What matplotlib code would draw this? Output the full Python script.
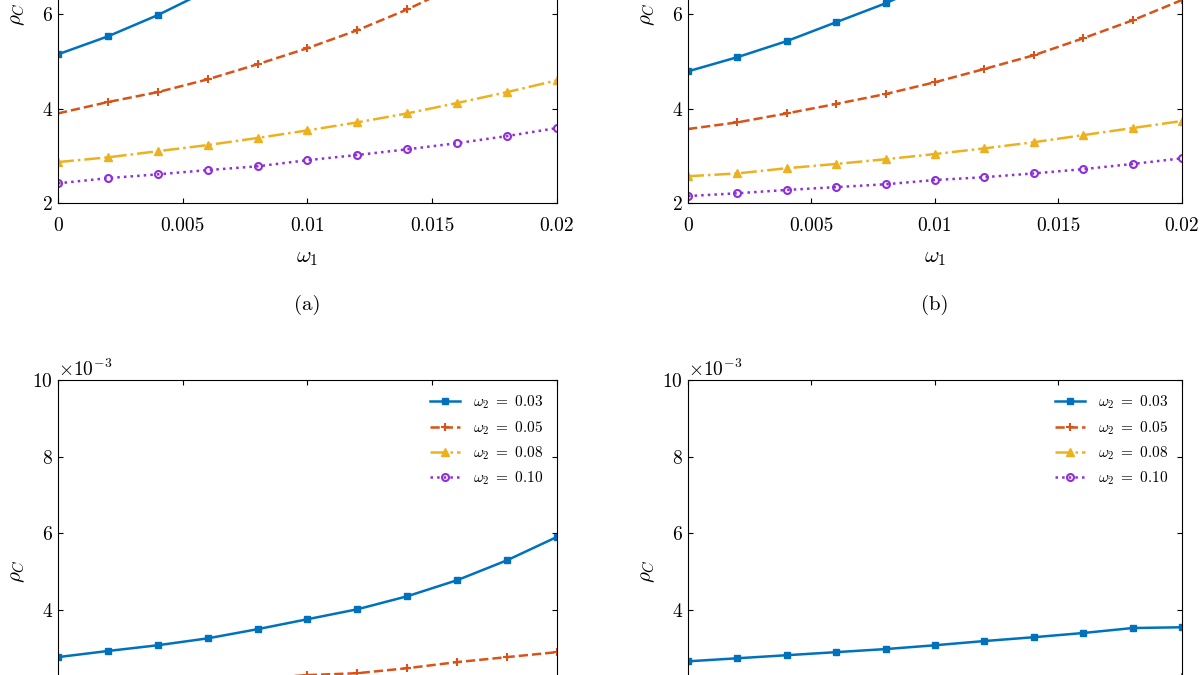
import matplotlib
matplotlib.use('Agg')
import matplotlib.pyplot as plt
import numpy as np

plt.rcParams['font.family'] = 'serif'
plt.rcParams['font.serif'] = ['cmr10', 'DejaVu Serif']
plt.rcParams['mathtext.fontset'] = 'cm'
plt.rcParams['axes.formatter.use_mathtext'] = True
plt.rcParams['axes.unicode_minus'] = False

w1 = np.arange(0, 0.0201, 0.002)

# panel values
panels = {
    'a': [[5.15, 5.53, 5.98, 6.5, 7.05, 7.7, 8.4, 9.2, 10.1, 11.0, 12.0],
          [3.90, 4.14, 4.35, 4.62, 4.94, 5.28, 5.66, 6.1, 6.6, 7.1, 7.7],
          [2.87, 2.97, 3.10, 3.23, 3.38, 3.54, 3.71, 3.90, 4.12, 4.35, 4.60],
          [2.42, 2.53, 2.61, 2.70, 2.78, 2.91, 3.02, 3.14, 3.27, 3.42, 3.59]],
    'b': [[4.79, 5.09, 5.43, 5.83, 6.23, 6.7, 7.2, 7.8, 8.4, 9.1, 9.9],
          [3.57, 3.71, 3.90, 4.10, 4.31, 4.56, 4.84, 5.13, 5.49, 5.87, 6.30],
          [2.57, 2.63, 2.74, 2.83, 2.93, 3.04, 3.16, 3.29, 3.44, 3.59, 3.74],
          [2.15, 2.21, 2.28, 2.34, 2.40, 2.49, 2.55, 2.63, 2.72, 2.83, 2.95]],
    'c': [[2.76, 2.92, 3.07, 3.25, 3.49, 3.75, 4.01, 4.35, 4.77, 5.29, 5.90],
          [1.95, 2.0, 2.06, 2.12, 2.2, 2.29, 2.34, 2.47, 2.63, 2.76, 2.89],
          [1.5, 1.53, 1.57, 1.61, 1.65, 1.7, 1.75, 1.8, 1.86, 1.92, 2.0],
          [1.2, 1.22, 1.25, 1.28, 1.31, 1.34, 1.38, 1.42, 1.46, 1.5, 1.55]],
    'd': [[2.65, 2.73, 2.81, 2.89, 2.97, 3.07, 3.18, 3.28, 3.39, 3.52, 3.54],
          [1.8, 1.84, 1.88, 1.92, 1.96, 2.0, 2.05, 2.1, 2.15, 2.2, 2.25],
          [1.3, 1.32, 1.34, 1.36, 1.38, 1.4, 1.43, 1.46, 1.49, 1.52, 1.55],
          [1.1, 1.11, 1.12, 1.13, 1.14, 1.15, 1.17, 1.19, 1.21, 1.23, 1.25]],
}

styles = [dict(color='#0072BD', ls='-', marker='s', mfc='#0072BD', ms=5),
          dict(color='#D95319', ls='--', marker='+', ms=6, mew=1.5),
          dict(color='#EDB120', ls='-.', marker='^', mfc='#EDB120', ms=6),
          dict(color='#8E2FD8', ls=':', marker='o', mfc='none', ms=5, mew=1.5)]
labels = [r'$\omega_2\ =\ 0.03$', r'$\omega_2\ =\ 0.05$', r'$\omega_2\ =\ 0.08$', r'$\omega_2\ =\ 0.10$']

fig = plt.figure(figsize=(12, 6.75), dpi=100)
pos = {'a': [0.0483, 0.699, 0.4158, 0.56], 'b': [0.5733, 0.699, 0.4117, 0.56],
       'c': [0.0483, -0.13, 0.4158, 0.567], 'd': [0.5733, -0.13, 0.4117, 0.567]}

for key, series in panels.items():
    ax = fig.add_axes(pos[key])
    bottom = key in 'cd'
    scale = 1e-3 if bottom else 1.0
    for vals, st, lab in zip(series, styles, labels):
        ax.plot(w1, np.array(vals) * scale, lw=1.8, label=lab, **st)
    ax.set_xlim(0, 0.02)
    ax.set_xticks([0, 0.005, 0.01, 0.015, 0.02])
    ax.set_xticklabels(['0', '0.005', '0.01', '0.015', '0.02'])
    ax.tick_params(direction='in', top=True, right=True, labelsize=14)
    ax.tick_params(axis='x', pad=10)
    ax.set_ylabel(r'$\rho_C$', fontsize=15)
    if bottom:
        ax.set_ylim(0, 0.01)
        ax.set_yticks([0, 0.002, 0.004, 0.006, 0.008, 0.01])
        ax.ticklabel_format(axis='y', style='sci', scilimits=(-3, -3))
        ax.yaxis.get_offset_text().set_fontsize(14)
        ax.legend(loc='upper right', fontsize=11, frameon=True, fancybox=False,
                  edgecolor='white', borderaxespad=0.5)
    else:
        ax.set_ylim(2, 10)
        ax.set_yticks([2, 4, 6, 8, 10])
        ax.set_xlabel(r'$\omega_1$', fontsize=16, labelpad=10)
        ax.text(0.5, -0.27, '(%s)' % key, transform=ax.transAxes,
                ha='center', va='center', fontsize=15)

fig.savefig('out.png', dpi=100)
